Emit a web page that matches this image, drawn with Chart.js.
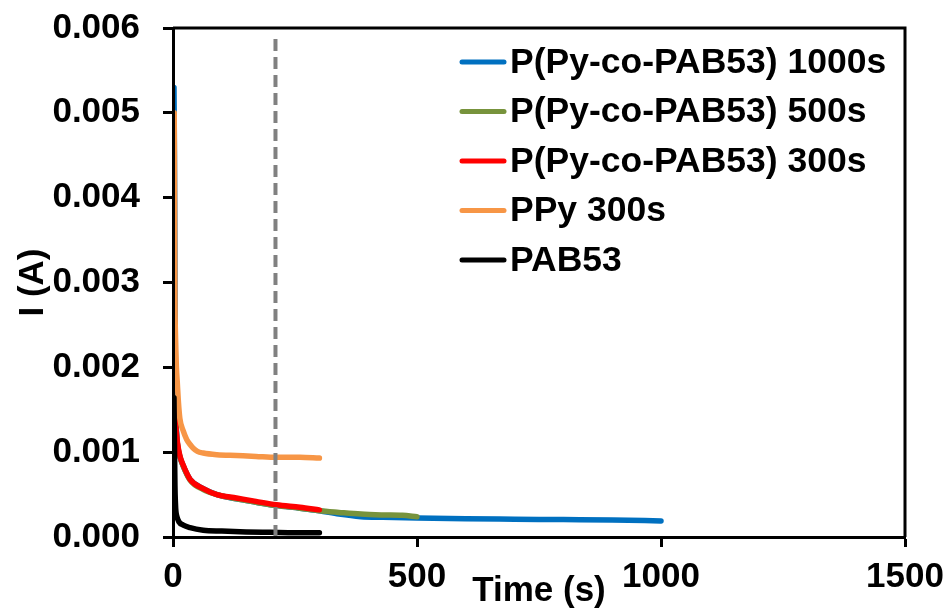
<!DOCTYPE html>
<html>
<head>
<meta charset="utf-8">
<script src="https://cdn.jsdelivr.net/npm/chart.js@4.4.1/dist/chart.umd.min.js"></script>
<style>
  html, body { margin: 0; padding: 0; background: #fff; }
  #wrap { width: 951px; height: 610px; }
</style>
</head>
<body>
<div id="wrap"><canvas id="chart"></canvas></div>
<script>
// series names and colours (legend order)
const seriesLabels = ['P(Py-co-PAB53) 1000s', 'P(Py-co-PAB53) 500s', 'P(Py-co-PAB53) 300s', 'PPy 300s', 'PAB53'];
const seriesColors = ['#0070C0', '#77933C', '#FF0000', '#F79646', '#000000'];

// time (s) / current (A)
const time1000 = [2, 3, 4, 5, 8, 14, 20, 35, 62, 90, 130, 170, 212, 260, 300, 340, 385, 430, 500, 600, 700, 800, 900, 1000];
const current1000 = [0.0053, 0.0045, 0.0032, 0.0019, 0.00118, 0.00095, 0.00085, 0.00068, 0.00057, 0.0005, 0.00045, 0.00041, 0.00037, 0.00034, 0.00031, 0.00027, 0.00024, 0.000232, 0.000225, 0.000215, 0.00021, 0.000205, 0.0002, 0.00019];

const time500 = [3, 4, 6, 9, 14, 20, 35, 62, 90, 130, 170, 212, 260, 300, 340, 385, 430, 470, 500];
const current500 = [0.0016, 0.0015, 0.0013, 0.0011, 0.00095, 0.00085, 0.00067, 0.00056, 0.0005, 0.00045, 0.00041, 0.00037, 0.00034, 0.00031, 0.00029, 0.00027, 0.00026, 0.000255, 0.00024];

const time300 = [3, 4, 6, 9, 14, 20, 35, 62, 90, 130, 170, 212, 260, 300];
const current300 = [0.0016, 0.0015, 0.0013, 0.00112, 0.00096, 0.00086, 0.00068, 0.00057, 0.0005, 0.00046, 0.00042, 0.00038, 0.00035, 0.00032];

const timePPy = [2.5, 3, 3.5, 4, 5, 7, 9, 11, 14, 21, 28, 35, 41, 50, 62, 90, 130, 170, 212, 260, 300];
const currentPPy = [0.005, 0.0043, 0.0035, 0.0028, 0.0024, 0.002, 0.0018, 0.0016, 0.0014, 0.00125, 0.00115, 0.00109, 0.00105, 0.00101, 0.00099, 0.00097, 0.00096, 0.00095, 0.00094, 0.00094, 0.00093];

const timePAB = [2, 3, 4, 5, 6, 8, 12, 21, 35, 62, 100, 150, 200, 250, 300];
const currentPAB = [0.00164, 0.0011, 0.0006, 0.0004, 0.0003, 0.00024, 0.00018, 0.00014, 0.00011, 0.00008, 0.00007, 0.00006, 0.000055, 0.00005, 0.00005];

// dashed marker line
const markerTime = [210, 210];
const markerCurrent = [0, 0.0059];

const xTicks = [0, 500, 1000, 1500];
const yTicks = [0, 0.001, 0.002, 0.003, 0.004, 0.005, 0.006];

const FONT = { family: '"Liberation Sans", Arial, sans-serif', size: 35, weight: 'bold' };

function toPoints(xs, ys) {
    return xs.map((x, i) => ({ x: x, y: ys[i] }));
}

const seriesData = [
    toPoints(time1000, current1000),
    toPoints(time500, current500),
    toPoints(time300, current300),
    toPoints(timePPy, currentPPy),
    toPoints(timePAB, currentPAB)
];

const datasets = seriesData.map((pts, i) => ({
    label: seriesLabels[i],
    data: pts,
    borderColor: seriesColors[i],
    backgroundColor: seriesColors[i],
    borderWidth: 5.5,
    pointRadius: 0,
    cubicInterpolationMode: 'monotone',
    borderCapStyle: 'round',
    borderJoinStyle: 'round',
    order: seriesLabels.length - i
}));

datasets.push({
    label: '',
    data: toPoints(markerTime, markerCurrent),
    borderColor: '#808080',
    borderWidth: 4,
    borderDash: [12, 6],
    pointRadius: 0,
    order: 0
});

// top + right frame of the plot area
const frame = {
    id: 'frame',
    afterDraw(chart) {
        const { ctx, chartArea: a } = chart;
        ctx.save();
        ctx.strokeStyle = '#000';
        ctx.lineWidth = 3;
        ctx.beginPath();
        ctx.moveTo(a.left, a.top);
        ctx.lineTo(a.right, a.top);
        ctx.lineTo(a.right, a.bottom);
        ctx.stroke();
        ctx.restore();
    }
};

// legend drawn inside the plot, top right
const lineLegend = {
    id: 'lineLegend',
    afterDraw(chart) {
        const { ctx, chartArea: a } = chart;
        ctx.save();
        ctx.font = 'bold 35.5px "Liberation Sans", Arial, sans-serif';
        ctx.textBaseline = 'middle';
        ctx.fillStyle = '#000';
        seriesLabels.forEach((label, i) => {
            const y = a.top + 34 + i * 49.5;
            ctx.strokeStyle = seriesColors[i];
            ctx.lineWidth = 5;
            ctx.lineCap = 'round';
            ctx.beginPath();
            ctx.moveTo(462, y);
            ctx.lineTo(504, y);
            ctx.stroke();
            ctx.fillText(label, 510, y + 1);
        });
        ctx.restore();
    }
};

new Chart(document.getElementById('chart'), {
    type: 'line',
    data: { datasets: datasets },
    options: {
        responsive: true,
        maintainAspectRatio: false,
        animation: false,
        layout: { padding: { top: 28, right: 46, left: 0, bottom: 0 } },
        plugins: {
            legend: { display: false },
            tooltip: { enabled: false }
        },
        scales: {
            x: {
                type: 'linear',
                min: 0,
                max: 1500,
                afterFit(scale) {
                    scale.height = 73;
                    scale.paddingLeft = 0;
                    scale.paddingRight = 0;
                },
                afterBuildTicks(scale) { scale.ticks = xTicks.map(v => ({ value: v })); },
                ticks: { color: '#000', font: FONT, padding: 9, maxRotation: 0, callback: v => String(v) },
                grid: { drawOnChartArea: false, drawTicks: true, tickLength: 10, tickWidth: 3, tickColor: '#000' },
                border: { color: '#000', width: 3, z: 1 },
                title: {
                    display: true,
                    text: 'Time (s)',
                    color: '#000',
                    font: FONT,
                    padding: { top: -40, bottom: -2 }
                }
            },
            y: {
                min: 0,
                max: 0.006,
                afterFit(scale) {
                    scale.width = 173;
                    scale.paddingTop = 0;
                    scale.paddingBottom = 0;
                },
                afterBuildTicks(scale) { scale.ticks = yTicks.map(v => ({ value: v })); },
                ticks: {
                    color: '#000',
                    font: FONT,
                    padding: 23,
                    callback: v => v.toFixed(3)
                },
                grid: { drawOnChartArea: false, drawTicks: true, tickLength: 10, tickWidth: 3, tickColor: '#000' },
                border: { color: '#000', width: 3, z: 1 },
                title: {
                    display: true,
                    text: 'I (A)',
                    color: '#000',
                    font: FONT,
                    padding: { top: 12, bottom: 0 }
                }
            }
        }
    },
    plugins: [frame, lineLegend]
});
</script>
</body>
</html>
